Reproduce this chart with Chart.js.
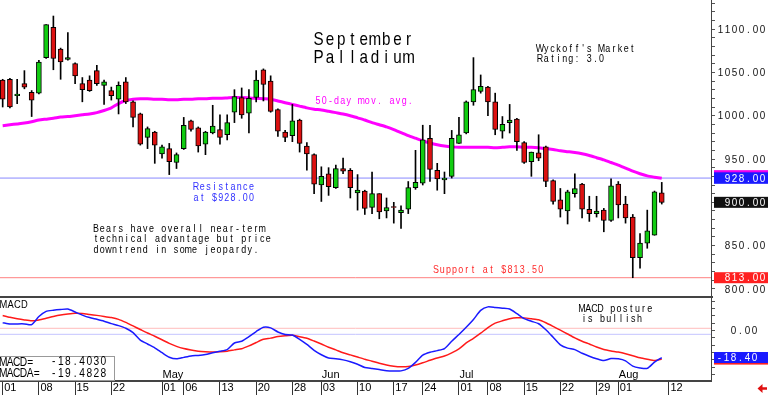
<!DOCTYPE html>
<html>
<head>
<meta charset="utf-8">
<script src="https://cdn.jsdelivr.net/npm/chart.js@4.4.0/dist/chart.umd.min.js"></script>
<style>
  html, body { margin: 0; padding: 0; background: #fff; }
  #wrap { position: relative; width: 768px; height: 395px; overflow: hidden; }
  canvas { position: absolute; left: 0; display: block; }
  #price { top: 0; }
  #macd { top: 296px; }
</style>
</head>
<body>
<div id="wrap">
  <canvas id="price" width="768" height="296"></canvas>
  <canvas id="macd" width="768" height="99"></canvas>
</div>
<script>
// daily candles, Apr 01 .. Aug 09 (one slot per trading day)
const opens = [1041,1042,1023,1037,1027,1026,1067,1102,1077,1065, 1060,1037,1041,1052,1035,1029,1019,1039,1016,1002,
  975,981,956,962,946,962,994,986,967,980, 984,978,1004,1021,1003,1021,1053,1040,1007,981,
  977,995,965,955,920,933,917,939,937,911, 913,894,910,890,895,888,892,917,922,974,
  937,926,930,968,980,1016,1028,1033,1016,982, 992,996,969,947,957,964,925,903,890,910,
  921,892,887,891,879,921,898,883,836,853, 862,911];
const highs = [1042,1043,1042,1052,1029,1064,1105,1115,1078,1096, 1061,1044,1046,1058,1041,1033,1039,1044,1017,1003,
  987,982,966,968,957,998,995,987,982,1012, 1001,1001,1030,1032,1030,1052,1054,1046,1008,983,
  1013,996,969,956,941,940,943,951,939,932, 914,935,910,905,900,896,924,960,989,989,
  945,935,983,998,1017,1067,1047,1034,1026,999, 1013,997,970,958,978,965,926,916,914,933,
  922,907,907,893,927,924,907,886,864,891, 913,923];
const lows = [1010,1009,1014,1031,999,1025,1066,1053,1042,1064, 1037,1016,1028,1035,1013,1018,1002,1014,987,966,
  962,945,951,932,939,961,982,958,955,979, 967,972,992,997,980,1016,1017,1004,976,970,
  970,958,937,910,901,908,916,933,905,891, 886,887,881,882,876,870,887,915,920,924,
  914,910,928,968,979,1012,1026,1000,978,974, 980,960,945,930,948,918,898,883,875,906,
  882,878,883,866,878,882,876,813,824,847, 862,898];
const closes = [1019,1010,1025,1033,1018,1062,1105,1066,1062,1067, 1046,1030,1029,1037,1039,1023,1035,1016,998,967,
  985,966,964,947,955,989,984,965,981,988, 975,992,1022,1001,1020,1041,1036,1005,982,975,
  994,968,956,921,930,918,939,936,917,914, 893,910,889,894,894,891,917,923,972,938,
  927,928,974,978,1016,1030,1034,1016,984,990, 995,970,946,958,951,924,901,892,912,916,
  892,887,890,879,919,897,882,836,853,867, 912,900];
const movAvg = [988.5,989.5,990.5,991.5,993,995,996,997,998.5,999, 1000,1001,1002,1003.5,1006,1009,1014,1017.5,1019,1019.5,
  1019.5,1019,1019,1018.5,1018.5,1019,1019,1019.5,1019.5,1020, 1020,1020.5,1021,1021,1020.5,1020,1019.5,1019,1017,1015,
  1013,1011,1009,1007.5,1006.5,1005,1003.5,1002,1000,997.5, 995,992,989.5,987,984,980.5,977,974,971,968.5,
  966.5,965,964,963.5,963.5,963.5,963.5,963.5,963,963.5, 964,964,963.5,963.5,963,962,961,959.5,958.5,957.5,
  956,954,951.5,949,946,943,939.5,936,933,930.5, 929,927.7];
const macdLine = [5.3,4.4,4.5,4.5,4.0,9.5,13,13.8,14.3,14.6, 12.6,10.5,8.8,7.6,6.3,4.7,3.3,1.5,-1.5,-6.5,
  -9.2,-11.8,-15.1,-18.2,-19.3,-18.3,-17.3,-17,-16.4,-15.2, -14.2,-13,-8.5,-7.3,-4.2,-0.7,2.2,1.8,-1,-2.7,
  -3.1,-6,-9.5,-13.5,-16.5,-18.7,-19.2,-20,-21.3,-23, -25.2,-25.9,-26.6,-27.4,-27.6,-27.5,-25.8,-21.7,-16.8,-14.8,
  -13.7,-12.3,-7.3,-2.7,2.2,7.5,13.7,16.1,15.7,15.2, 14.6,11.5,8.1,6.3,4.6,0.5,-4.6,-9.8,-12,-13,
  -15.5,-17.5,-19.2,-20.5,-19.1,-19.3,-20.7,-24.3,-25.5,-25.8, -21.6,-18.4030];
const macdSignal = [10.2,9,8,7.2,6.6,7.2,8.3,9.5,10.5,11.2, 11.7,11.5,10.9,10.3,9.6,8.8,7.6,5.5,3.1,0.7,
  -1.7,-3.9,-6.3,-8.8,-10.8,-12.3,-13.3,-14.1,-14.5,-14.7, -14.5,-14.1,-13.2,-12.4,-10.5,-8.2,-6,-5.2,-4.1,-3.6,
  -3.3,-4.2,-5.3,-7.2,-9.2,-11.4,-13.2,-15.2,-16.6,-18.1, -19.6,-20.9,-22.3,-23.5,-24.3,-24.7,-24.5,-23.5,-22,-20.3,
  -18.7,-17.4,-15.2,-12.5,-8.5,-5.3,-1.8,2,5,6.6, 8,8.7,8.6,8,7.3,5.3,2.8,0.2,-2.4,-5,
  -7.3,-9.2,-11.2,-12.9,-13.9,-14.7,-15.9,-17.2,-18.6,-19.6, -20.5,-19.4828];

const resistance = 928;
const support = 813;
const macdGuides = [1.5, -2.6];
const priceTickValues = [800, 850, 900, 950, 1000, 1050, 1100];
const macdTickValues = [0];
const dateTicks = [0, 5, 10, 15, 22, 25, 30, 35, 40, 44, 49, 54, 58, 63, 67, 72, 77, 82, 85, 92];
const dateLabels = ["01","08","15","22","01","06","13","20","28","03","10","17","24","01","08","15","22","29","01","12"];
const monthTicks = [22, 44, 63, 85];
const monthNames = ["May", "Jun", "Jul", "Aug"];

const xMin = -0.37, xMax = 97.8;
const sans = '"Liberation Sans", Arial, sans-serif';
const idx = closes.map((_, i) => i);
const rising = closes.map((c, i) => c >= opens[i]);

// letters placed in even cells, like the old terminal font
function spaced(ctx, str, x, y, cell, size, color, sx, baseline) {
  ctx.save();
  ctx.font = size + 'px ' + sans;
  ctx.fillStyle = color;
  ctx.textAlign = 'center';
  ctx.textBaseline = baseline || 'alphabetic';
  for (let i = 0; i < str.length; i++) {
    ctx.save();
    ctx.translate(x + cell * i + cell / 2, y);
    ctx.scale(sx, 1);
    ctx.fillText(str[i], 0, 0);
    ctx.restore();
  }
  ctx.restore();
}
function spacedRight(ctx, str, right, y, cell, size, color, sx) {
  spaced(ctx, str, right - cell * str.length, y, cell, size, color, sx, 'middle');
}
function axisBox(ctx, scale, value, bg, h) {
  const y = scale.getPixelForValue(value);
  ctx.fillStyle = bg;
  ctx.fillRect(scale.left + 3, y - h / 2, 768 - scale.left - 3, h);
  return y;
}

const priceOverlay = {
  id: 'priceOverlay',
  afterDraw(chart) {
    const ctx = chart.ctx;
    const ys = chart.scales.y;
    spaced(ctx, 'September', 313, 45, 11.25, 19, '#000', 0.8);
    spaced(ctx, 'Palladium', 313, 63, 11.25, 19, '#000', 0.8);
    spaced(ctx, "Wyckoff's Market", 537, 51.5, 6.15, 10.5, '#000', 0.85);
    spaced(ctx, 'Rating: 3.0', 537, 62, 6.15, 10.5, '#000', 0.85);
    spaced(ctx, '50-day mov. avg.', 315, 104, 6.15, 10.5, '#ff00ff', 0.85);
    spaced(ctx, 'Resistance', 193, 190, 6.15, 10.5, '#2f2fff', 0.85);
    spaced(ctx, 'at $928.00', 193, 200.5, 6.15, 10.5, '#2f2fff', 0.85);
    spaced(ctx, 'Bears have overall near-term', 93, 232, 6.15, 10.5, '#000', 0.85);
    spaced(ctx, 'technical advantage but price', 93, 242.3, 6.15, 10.5, '#000', 0.85);
    spaced(ctx, 'downtrend in some jeopardy.', 93, 252.6, 6.15, 10.5, '#000', 0.85);
    spaced(ctx, 'Support at $813.50', 433, 273, 6.15, 10.5, '#ff2a2a', 0.85);

    priceTickValues.forEach(v => {
      spacedRight(ctx, v.toFixed(2), 766, ys.getPixelForValue(v) + 0.5, 7, 11, '#111', 0.9);
    });
    // current-value boxes on the price axis
    axisBox(ctx, ys, movAvg[movAvg.length - 1] + 2.5, '#ee00ee', 12);
    let y = axisBox(ctx, ys, resistance, '#1a1aff', 11.5);
    spacedRight(ctx, resistance.toFixed(2), 766, y + 0.5, 7, 11, '#fff', 0.9);
    y = axisBox(ctx, ys, closes[closes.length - 1], '#111', 11);
    spacedRight(ctx, closes[closes.length - 1].toFixed(2), 766, y + 0.5, 7, 11, '#fff', 0.9);
    y = axisBox(ctx, ys, support, '#ff2020', 11);
    spacedRight(ctx, support.toFixed(2), 766, y + 0.5, 7, 11, '#fff', 0.9);
  }
};

const macdOverlay = {
  id: 'macdOverlay',
  afterDraw(chart) {
    const ctx = chart.ctx;
    const xs = chart.scales.x, ys = chart.scales.y;
    ctx.fillStyle = '#444';
    ctx.fillRect(0, 0, 713, 2);

    spaced(ctx, 'MACD', 0, 12, 7, 11, '#000', 0.85);
    spaced(ctx, 'MACD posture', 579, 15.7, 6.15, 10.5, '#000', 0.85);
    spaced(ctx, 'is bullish', 581, 26.3, 6.15, 10.5, '#000', 0.85);

    monthNames.forEach((m, k) => {
      ctx.font = '11px ' + sans;
      ctx.fillStyle = '#000';
      ctx.textAlign = 'left';
      ctx.textBaseline = 'alphabetic';
      ctx.fillText(m, xs.getPixelForValue(monthTicks[k]) + 0.5, 81.5);
    });

    // value box, lower left
    ctx.fillStyle = '#fff';
    ctx.fillRect(0, 60, 115, 24);
    ctx.strokeStyle = '#999';
    ctx.lineWidth = 1;
    ctx.strokeRect(-0.5, 60.5, 115, 24);
    spaced(ctx, 'MACD=', 0, 70, 6.7, 12, '#000', 0.85);
    spaced(ctx, 'MACDA=', 0, 81.3, 6.7, 12, '#000', 0.85);
    const mLast = macdLine[macdLine.length - 1], sLast = macdSignal[macdSignal.length - 1];
    spacedRight(ctx, mLast.toFixed(4), 107, 66, 7.1, 12, '#000', 0.85);
    spacedRight(ctx, sLast.toFixed(4), 107, 77.3, 7.1, 12, '#000', 0.85);

    macdTickValues.forEach(v => {
      spacedRight(ctx, v.toFixed(2), 758, ys.getPixelForValue(v) + 0.5, 7, 11, '#111', 0.9);
    });
    axisBox(ctx, ys, sLast, '#ff2020', 11);
    const y = axisBox(ctx, ys, mLast, '#1a1aff', 11);
    spacedRight(ctx, mLast.toFixed(2), 758, y + 0.5, 7, 11, '#fff', 0.9);

    // little red arrow, bottom right
    ctx.fillStyle = '#e01010';
    ctx.beginPath();
    ctx.moveTo(757.5, 92.5);
    ctx.lineTo(762.5, 88);
    ctx.lineTo(762.5, 91.2);
    ctx.lineTo(767, 91.2);
    ctx.lineTo(767, 93.8);
    ctx.lineTo(762.5, 93.8);
    ctx.lineTo(762.5, 97);
    ctx.closePath();
    ctx.fill();
  }
};

function fixRightAxis(s) {
  s.width = 57;
  s.paddingTop = 0;
  s.paddingBottom = 0;
}
function flatLine(value, color) {
  return {
    type: 'line', data: [{x: xMin, y: value}, {x: xMax, y: value}],
    borderColor: color, borderWidth: 1, pointRadius: 0, order: 6
  };
}

new Chart(document.getElementById('price'), {
  type: 'bar',
  data: {
    datasets: [
      flatLine(resistance, '#8888ff'),
      flatLine(support, '#ff8080'),
      {
        type: 'line', data: idx.map(i => ({x: i, y: movAvg[i]})),
        borderColor: '#ff00ff', borderWidth: 3, pointRadius: 0, tension: 0.2, order: 4
      },
      {
        data: idx.map(i => ({x: i, y: [lows[i], highs[i]]})),
        backgroundColor: '#000', barThickness: 1, grouped: false, order: 2
      },
      {
        data: idx.map(i => ({x: i, y: [Math.min(opens[i], closes[i]), Math.max(opens[i], closes[i])]})),
        backgroundColor: rising.map(r => r ? '#11cc11' : '#dd1111'),
        borderColor: '#000', borderWidth: 1, borderSkipped: false,
        barThickness: 5, grouped: false, order: 1
      }
    ]
  },
  options: {
    responsive: false, animation: false, events: [],
    layout: { padding: 0 },
    plugins: { legend: { display: false }, tooltip: { enabled: false } },
    scales: {
      x: { type: 'linear', min: xMin, max: xMax, offset: false, display: false },
      y: {
        position: 'right', min: 791.9, max: 1133.5,
        afterBuildTicks: s => {
          s.ticks = [];
          for (let v = 800; v <= 1130; v += 10) s.ticks.push({ value: v });
        },
        ticks: { display: false, autoSkip: false },
        grid: { drawOnChartArea: false, drawTicks: true, tickLength: 4, color: '#555' },
        border: { display: true, color: '#444', width: 1 },
        afterFit: fixRightAxis
      }
    }
  },
  plugins: [priceOverlay]
});

new Chart(document.getElementById('macd'), {
  type: 'line',
  data: {
    datasets: [
      flatLine(macdGuides[0], '#ffbcbc'),
      flatLine(macdGuides[1], '#c4c4ff'),
      {
        data: idx.map(i => ({x: i, y: macdSignal[i]})),
        borderColor: '#ff1a1a', borderWidth: 1.5, pointRadius: 0, tension: 0.2, order: 2
      },
      {
        data: idx.map(i => ({x: i, y: macdLine[i]})),
        borderColor: '#1a1aff', borderWidth: 1.5, pointRadius: 0, tension: 0.2, order: 1
      }
    ]
  },
  options: {
    responsive: false, animation: false, events: [],
    layout: { padding: 0 },
    plugins: { legend: { display: false }, tooltip: { enabled: false } },
    scales: {
      x: {
        type: 'linear', position: 'bottom', min: xMin, max: xMax, offset: false,
        afterBuildTicks: s => { s.ticks = dateTicks.map(v => ({ value: v })); },
        ticks: {
          autoSkip: false, maxRotation: 0, minRotation: 0, align: 'start',
          labelOffset: 1.5, padding: -13.5, color: '#000',
          font: { family: sans, size: 11 },
          callback: (v, i) => dateLabels[i]
        },
        grid: { drawOnChartArea: false, drawTicks: true, tickLength: 14, color: '#333' },
        border: { display: true, color: '#444', width: 2 },
        afterFit: s => { s.height = 14; s.paddingLeft = 0; s.paddingRight = 0; }
      },
      y: {
        position: 'right', min: -34.4, max: 23.5,
        afterBuildTicks: s => {
          s.ticks = [];
          for (let v = -30; v <= 20; v += 5) s.ticks.push({ value: v });
        },
        ticks: { display: false, autoSkip: false },
        grid: { drawOnChartArea: false, drawTicks: true, tickLength: 4, color: '#555' },
        border: { display: true, color: '#444', width: 1 },
        afterFit: fixRightAxis
      }
    }
  },
  plugins: [macdOverlay]
});
</script>
</body>
</html>
